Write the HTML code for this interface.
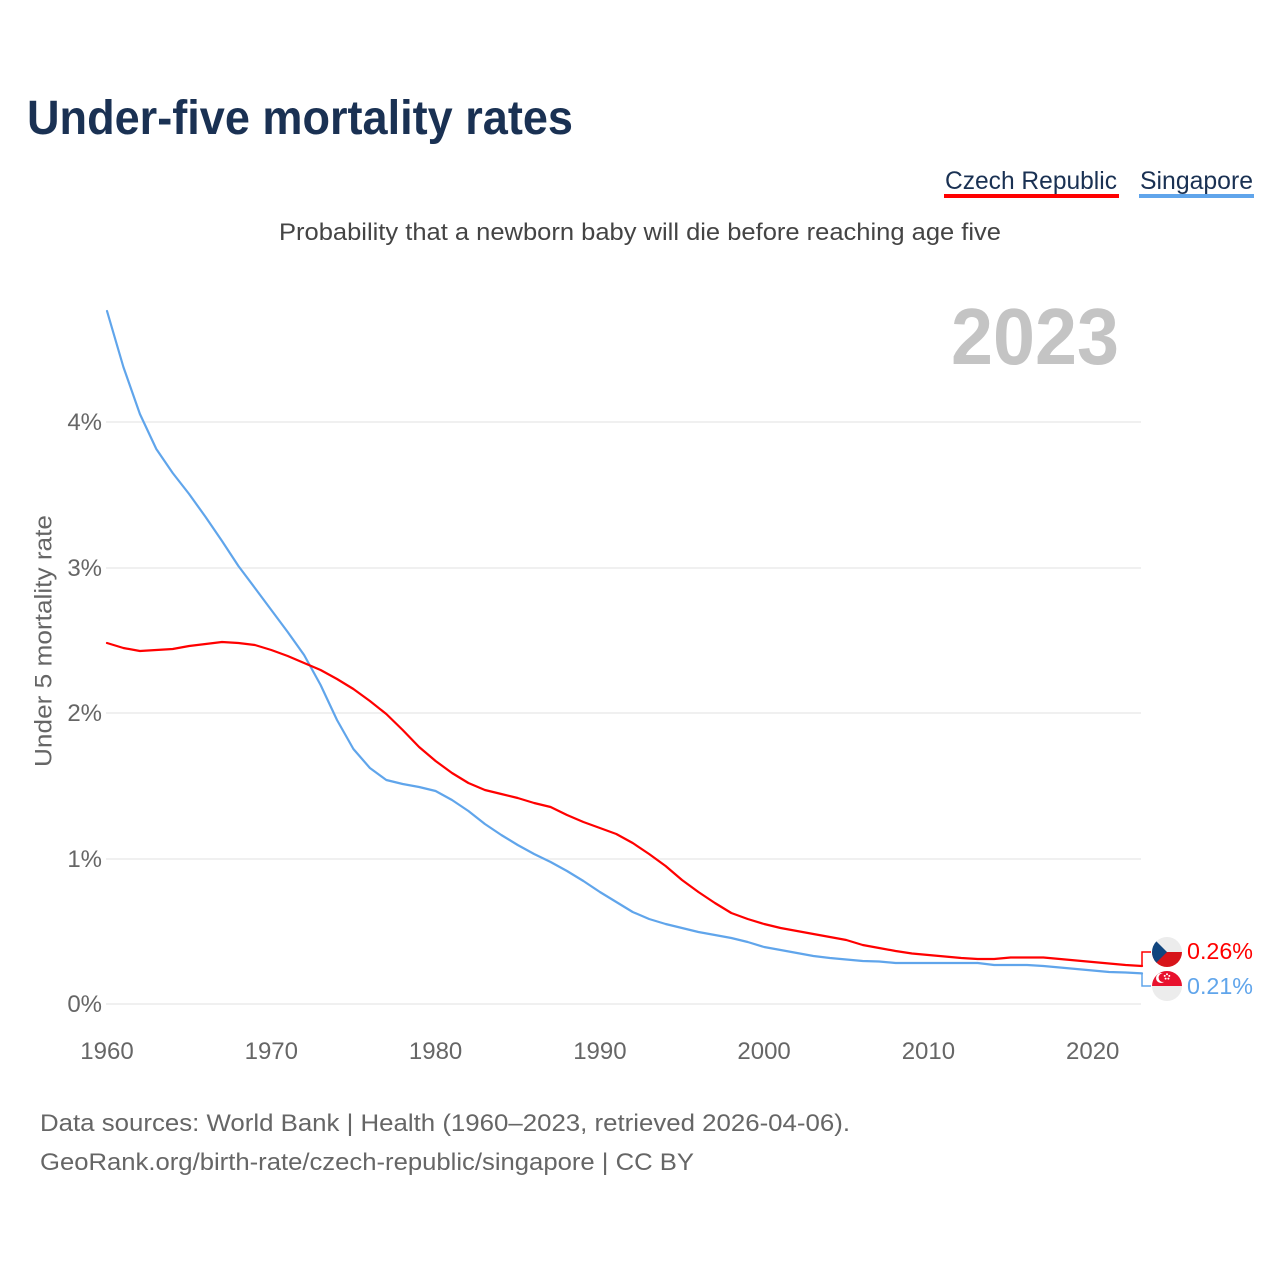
<!DOCTYPE html>
<html>
<head>
<meta charset="utf-8">
<style>
  html, body { margin: 0; padding: 0; background: #ffffff; }
  svg { display: block; }
  text { font-family: "Liberation Sans", "DejaVu Sans", sans-serif; }
</style>
</head>
<body>
<svg width="1280" height="1280" viewBox="0 0 1280 1280" xmlns="http://www.w3.org/2000/svg">
  <rect x="0" y="0" width="1280" height="1280" fill="#ffffff"/>

  <!-- Title -->
  <text x="27" y="134" font-size="48" font-weight="bold" fill="#1a3153" textLength="546" lengthAdjust="spacingAndGlyphs">Under-five mortality rates</text>

  <!-- Legend -->
  <text x="945" y="189" font-size="25" fill="#1a3153" textLength="172" lengthAdjust="spacingAndGlyphs">Czech Republic</text>
  <rect x="944" y="194" width="175" height="4" fill="#ff0000"/>
  <text x="1140" y="189" font-size="25" fill="#1a3153" textLength="113" lengthAdjust="spacingAndGlyphs">Singapore</text>
  <rect x="1139" y="194" width="115" height="4" fill="#60a5eb"/>

  <!-- Subtitle -->
  <text x="279" y="240" font-size="24" fill="#444444" textLength="722" lengthAdjust="spacingAndGlyphs">Probability that a newborn baby will die before reaching age five</text>

  <!-- Big year -->
  <text x="951" y="364" font-size="80" font-weight="bold" fill="#c4c4c4" textLength="168" lengthAdjust="spacingAndGlyphs">2023</text>

  <!-- Gridlines -->
  <g stroke="#e8e8e8" stroke-width="1.2">
    <line x1="106" y1="1004" x2="1141" y2="1004"/>
    <line x1="106" y1="859" x2="1141" y2="859"/>
    <line x1="106" y1="713" x2="1141" y2="713"/>
    <line x1="106" y1="568" x2="1141" y2="568"/>
    <line x1="106" y1="422" x2="1141" y2="422"/>
  </g>

  <!-- Y tick labels -->
  <g font-size="24" fill="#666666" text-anchor="end">
    <text x="102" y="1012">0%</text>
    <text x="102" y="867">1%</text>
    <text x="102" y="721">2%</text>
    <text x="102" y="576">3%</text>
    <text x="102" y="430">4%</text>
  </g>

  <!-- Y axis title -->
  <text transform="translate(51.5,641) rotate(-90)" font-size="24" fill="#666666" text-anchor="middle" textLength="252" lengthAdjust="spacingAndGlyphs">Under 5 mortality rate</text>

  <!-- X tick labels -->
  <g font-size="24" fill="#666666" text-anchor="middle">
    <text x="107" y="1059">1960</text>
    <text x="271.3" y="1059">1970</text>
    <text x="435.6" y="1059">1980</text>
    <text x="599.9" y="1059">1990</text>
    <text x="764.1" y="1059">2000</text>
    <text x="928.4" y="1059">2010</text>
    <text x="1092.7" y="1059">2020</text>
  </g>

  <!-- Singapore series -->
  <polyline fill="none" stroke="#60a5eb" stroke-width="2.2" stroke-linejoin="round" stroke-linecap="round"
    points="107,311 123.4,367 139.9,414 156.3,449 172.7,473 189.1,494 205.6,517 222,541 238.4,566 254.9,588 271.3,610 287.7,632 304.1,655 320.6,685 337,720 353.4,749 369.9,768 386.3,780 402.7,784 419.1,787 435.6,791 452,800 468.4,811 484.9,824 501.3,835 517.7,845 534.1,854 550.6,862 567,871 583.4,881 599.9,892 616.3,902 632.7,912 649.1,919 665.6,924 682,928 698.4,932 714.9,935 731.3,938 747.7,942 764.1,947 780.6,950 797,953 813.4,956 829.9,958 846.3,959.5 862.7,961 879.1,961.5 895.6,963 912,963 928.4,963 944.9,963 961.3,963 977.7,963 994.1,965 1010.6,965 1027,965 1043.4,966 1059.9,967.5 1076.3,969 1092.7,970.5 1109.1,972 1125.6,972.5 1142,973.4"/>

  <!-- Czech series -->
  <polyline fill="none" stroke="#ff0000" stroke-width="2.2" stroke-linejoin="round" stroke-linecap="round"
    points="107,643 123.4,648 139.9,651 156.3,650 172.7,649 189.1,646 205.6,644 222,642 238.4,643 254.9,645 271.3,650 287.7,656 304.1,663 320.6,670 337,679 353.4,689 369.9,701 386.3,714 402.7,730 419.1,747 435.6,761 452,773 468.4,783 484.9,790 501.3,794 517.7,798 534.1,803 550.6,807 567,815 583.4,822 599.9,828 616.3,834 632.7,843 649.1,854 665.6,866 682,880 698.4,892 714.9,903 731.3,913 747.7,919 764.1,924 780.6,928 797,931 813.4,934 829.9,937 846.3,940 862.7,945 879.1,948 895.6,951 912,953.5 928.4,955 944.9,956.5 961.3,958 977.7,959 994.1,959 1010.6,957.5 1027,957.5 1043.4,957.5 1059.9,959 1076.3,960.5 1092.7,962 1109.1,963.5 1125.6,965 1142,966"/>

  <!-- Leader lines -->
  <polyline fill="none" stroke="#ff0000" stroke-width="1.5" points="1142,966 1142,952 1151,952"/>
  <polyline fill="none" stroke="#60a5eb" stroke-width="1.5" points="1142,973.4 1142,986 1151,986"/>

  <defs>
    <clipPath id="czClip"><circle cx="1167" cy="952" r="15"/></clipPath>
    <clipPath id="sgClip"><circle cx="1167" cy="986" r="15"/></clipPath>
  </defs>

  <!-- Czech flag -->
  <g clip-path="url(#czClip)">
    <rect x="1150" y="935" width="34" height="34" fill="#ececec"/>
    <rect x="1150" y="952" width="34" height="17" fill="#d7141a"/>
    <polygon points="1150,935 1150,969 1167,952" fill="#11457e"/>
  </g>

  <!-- Singapore flag -->
  <g clip-path="url(#sgClip)">
    <rect x="1150" y="969" width="34" height="34" fill="#ececec"/>
    <rect x="1150" y="969" width="34" height="17" fill="#e8112d"/>
    <circle cx="1161" cy="978" r="5" fill="#ffffff"/>
    <circle cx="1163" cy="977.6" r="4.4" fill="#e8112d"/>
    <g fill="#ffffff">
      <circle cx="1167" cy="974.2" r="1"/>
      <circle cx="1169.3" cy="975.9" r="1"/>
      <circle cx="1168.4" cy="978.6" r="1"/>
      <circle cx="1165.6" cy="978.6" r="1"/>
      <circle cx="1164.7" cy="975.9" r="1"/>
    </g>
  </g>

  <!-- End labels -->
  <text x="1187" y="959" font-size="23" fill="#ff0000" textLength="66" lengthAdjust="spacingAndGlyphs">0.26%</text>
  <text x="1187" y="994" font-size="23" fill="#60a5eb" textLength="66" lengthAdjust="spacingAndGlyphs">0.21%</text>

  <!-- Footer -->
  <text x="40" y="1131" font-size="24" fill="#666666" textLength="810" lengthAdjust="spacingAndGlyphs">Data sources: World Bank | Health (1960–2023, retrieved 2026-04-06).</text>
  <text x="40" y="1170" font-size="24" fill="#666666" textLength="654" lengthAdjust="spacingAndGlyphs">GeoRank.org/birth-rate/czech-republic/singapore | CC BY</text>
</svg>
</body>
</html>
